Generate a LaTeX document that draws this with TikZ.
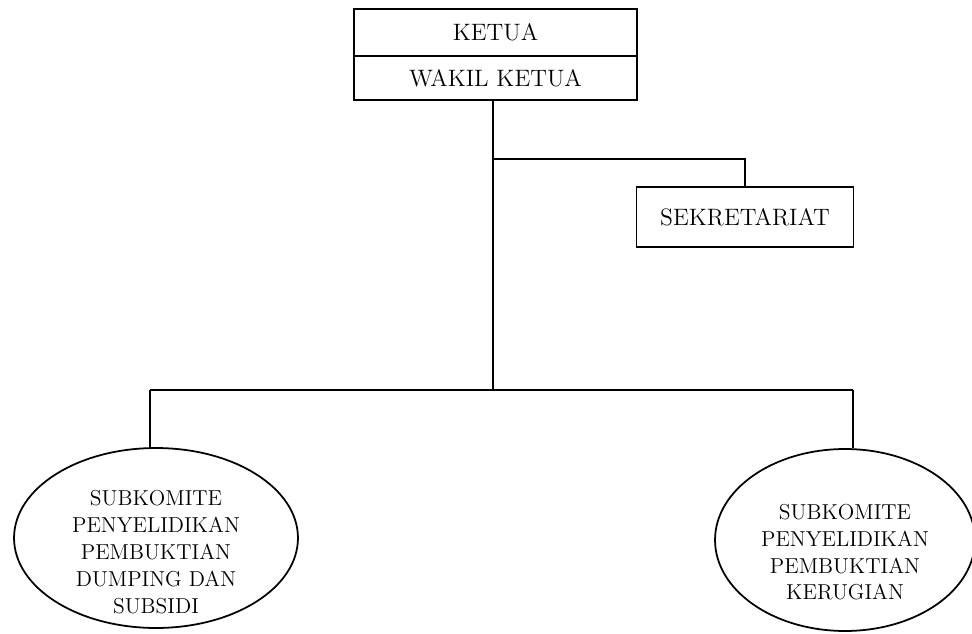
\documentclass[tikz,border=0pt]{standalone}
\usepackage{tikz}
\usetikzlibrary{calc,positioning,shapes.geometric}
% isi lonjong, digeser ke bawah tanpa mengubah ukuran lonjong
\newcommand{\isilonjong}[2]{\raisebox{#1}[0pt][0pt]{\begin{tabular}{@{}c@{}}#2\end{tabular}}}

\begin{document}
\begin{tikzpicture}[x=0.02cm,y=-0.02cm,line width=1pt,
  kotak/.style={draw,rectangle,minimum width=5.66cm,inner sep=0pt,outer sep=0pt,
    font=\fontsize{13.5}{16}\selectfont},
  lonjong/.style={draw,ellipse,inner sep=0pt,font=\fontsize{12.3}{15.3}\selectfont}]
  \useasboundingbox (0,0) rectangle (972,634);

  \node[kotak,minimum height=0.94cm] (ketua) at (495.5,32.5) {KETUA};
  \node[kotak,minimum height=0.88cm,below=0pt of ketua] (wakil) {WAKIL KETUA};

  \node[kotak,minimum width=4.34cm,minimum height=1.2cm] (sekr) at (745,217) {SEKRETARIAT};

  \node[lonjong,minimum width=5.68cm,minimum height=3.6cm] (subA) at (156,538)
  {\isilonjong{-0.43cm}{SUBKOMITE\\PENYELIDIKAN\\PEMBUKTIAN\\DUMPING DAN\\SUBSIDI}};
  \node[lonjong,minimum width=5.2cm,minimum height=3.64cm] (subB) at (845,540)
  {\isilonjong{-0.39cm}{SUBKOMITE\\PENYELIDIKAN\\PEMBUKTIAN\\KERUGIAN}};

  % titik cabang
  \coordinate (j1) at (493,159);
  \coordinate (j2) at (493,390);
  \coordinate (kiri) at (150,390);
  \coordinate (kanan) at (853,390);

  \draw (wakil.south -| j1) -- (j2);
  \draw (j1) -| (sekr.north);
  \draw (kiri) -- (kanan);
  \draw (kiri) -- (kiri |- subA.north);
  \draw (kanan) -- (kanan |- subB.north);
\end{tikzpicture}
\end{document}
